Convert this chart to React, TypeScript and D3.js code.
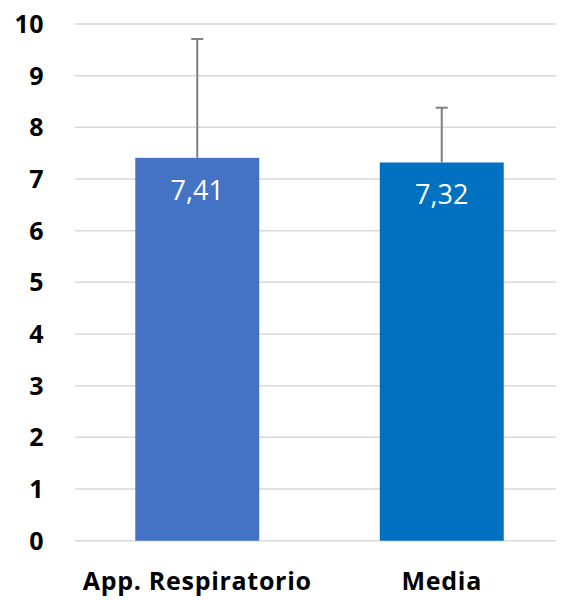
import React from "react";
import * as d3 from "d3";

const categories = ["App. Respiratorio", "Media"];
const values = [7.41, 7.32];
const errorTops = [9.71, 8.38];
const valueLabels = ["7,41", "7,32"];
const colors = ["#4472C4", "#0070C0"];
const yTicks = [0, 1, 2, 3, 4, 5, 6, 7, 8, 9, 10];

const W = 562;
const H = 600;

export default function App() {
  const x = d3.scaleBand<string>().domain(categories).range([75, 564]).paddingInner(0.493).paddingOuter(0.2465);
  const y = d3.scaleLinear().domain([0, 10]).range([540.7, 24]);
  const bw = x.bandwidth();
  const font = "'Open Sans', sans-serif";
  return (
    <svg width={W} height={H} style={{ position: "absolute", left: 0, top: 0, background: "#fff" }}>
      {yTicks.map((t) => (
        <g key={t}>
          <line x1={75} x2={556} y1={y(t)} y2={y(t)} stroke="#d9d9d9" strokeWidth={1.5} />
          <text x={44} y={y(t)} dy="0.36em" textAnchor="end" fontFamily={font} fontWeight="bold" fontSize={25} letterSpacing={0.5} fill="#000">
            {t}
          </text>
        </g>
      ))}
      {categories.map((c, i) => {
        const x0 = x(c)!;
        const cx = x0 + bw / 2;
        return (
          <g key={c}>
            <rect x={x0} y={y(values[i])} width={bw} height={y(0) - y(values[i])} fill={colors[i]} />
            <line x1={cx} x2={cx} y1={y(values[i])} y2={y(errorTops[i])} stroke="#7f7f7f" strokeWidth={2} />
            <line x1={cx - 6} x2={cx + 6} y1={y(errorTops[i])} y2={y(errorTops[i])} stroke="#7f7f7f" strokeWidth={2} />
            <text x={cx} y={y(values[i]) + 42} textAnchor="middle" fontFamily={font} fontSize={27} fill="#fff">
              {valueLabels[i]}
            </text>
            <text x={cx} y={590} textAnchor="middle" fontFamily={font} fontWeight="bold" fontSize={25} letterSpacing={0.7} fill="#000">
              {c}
            </text>
          </g>
        );
      })}
    </svg>
  );
}
